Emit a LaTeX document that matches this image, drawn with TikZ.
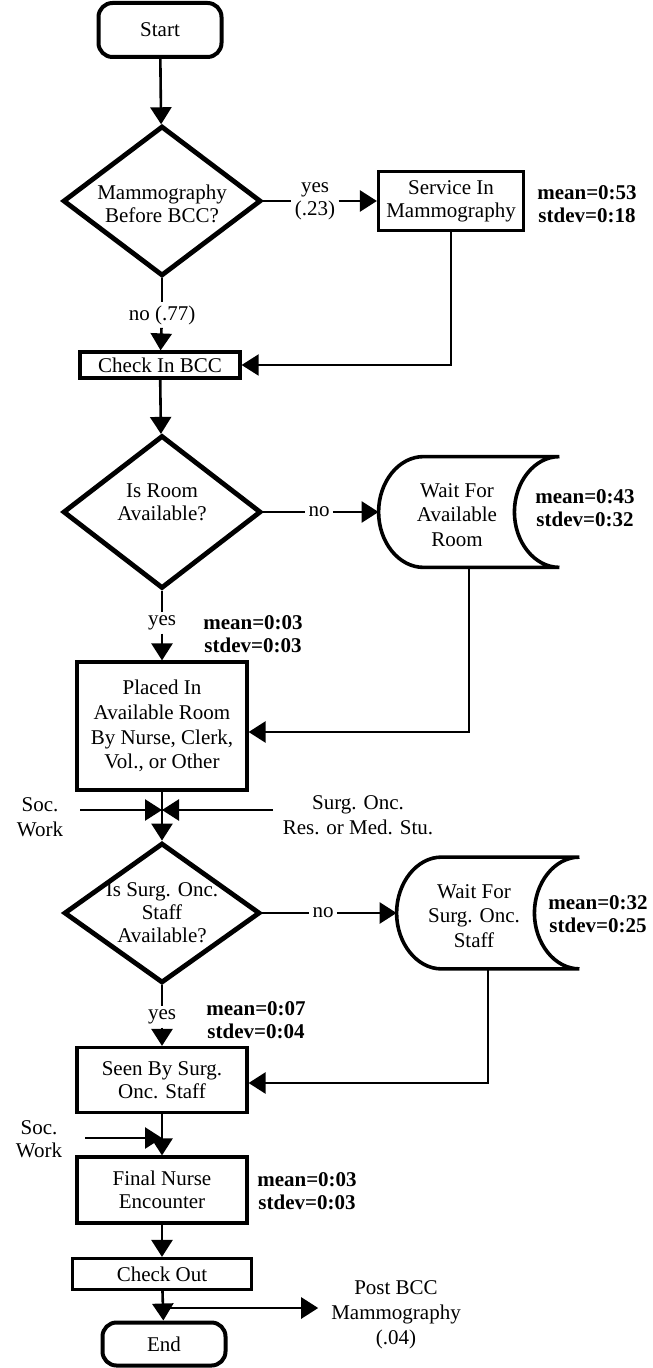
\documentclass[tikz,border=0pt]{standalone}
\usepackage{fontspec}
\setmainfont{Liberation Serif}
\usepackage{tikz}
\usetikzlibrary{arrows.meta}
\usetikzlibrary{shapes.geometric}
\usetikzlibrary{calc}
\usetikzlibrary{positioning}
\tikzstyle{flow_line}=[line width=1.3pt]
\tikzstyle{flow_arrow}=[flow_line, -{Triangle[length=8.5pt,width=10.5pt]}]
\tikzstyle{flow_text}=[font=\fontsize{10.5pt}{11.5pt}\selectfont, align=center]
\tikzstyle{flow_text_wide}=[font=\fontsize{10.5pt}{12.4pt}\selectfont, align=center]
\tikzstyle{flow_label}=[flow_text, inner sep=1.5pt]
\tikzstyle{flow_stats}=[align=center, font=\fontsize{10.5pt}{11.5pt}\selectfont\bfseries, inner sep=0pt]
\tikzstyle{flow_box}=[flow_text, draw, line width=1.6pt, rectangle, inner sep=2pt]
\tikzstyle{flow_terminal}=[flow_box, line width=2pt, rounded corners=7pt]
\tikzstyle{flow_decision}=[draw, diamond, line width=2.4pt, inner sep=0pt]
\tikzstyle{flow_wait}=[rectangle, inner sep=0pt]
\tikzstyle{wait_line}=[line width=1.8pt]
\newcommand{\waitshape}[1]{%
  \draw[wait_line] ($(#1.north west)+(45,0)$) -- (#1.north east)
    .. controls +(-25,0) and +(0,-30) .. ($(#1.east)+(-45,0)$)
    .. controls +(0,30) and +(-25,0) .. (#1.south east)
    -- ($(#1.south west)+(45,0)$)
    .. controls +(-25,0) and +(0,30) .. (#1.west)
    .. controls +(0,-30) and +(-25,0) .. ($(#1.north west)+(45,0)$);}
\begin{document}
\begin{tikzpicture}[x=0.5pt,y=-0.5pt]
\useasboundingbox (0,0) rectangle (652,1368);
\node[flow_terminal, minimum width=61.5pt, minimum height=27pt] (start) at (160,30) {Start};
\node[flow_decision, minimum width=99pt, minimum height=75pt,
  label={[flow_text, yshift=-1.5pt]center:Mammography\\Before BCC?}] (d1) at (162,201) {};
\node[flow_label] (yes1) at (315,201) {yes\\(.23)};
\node[flow_box, minimum width=72.5pt, minimum height=29.5pt] (service) at (451,201) {Service In\\Mammography};
\node[flow_stats] (stats1) at (587,204) {mean=0:53\\stdev=0:18};
\node[flow_label] (no1) at (162,315) {no (.77)};
\node[flow_box, inner ysep=1pt, minimum width=80pt, minimum height=13pt] (checkin) at (160,365) {Check In BCC};
\node[flow_decision, minimum width=99pt, minimum height=76.5pt,
  label={[flow_text, yshift=5pt]center:Is Room\\Available?}] (d2) at (162,512) {};
\node[flow_label] (no2) at (319,512) {no};
\node[flow_wait, minimum width=90pt, minimum height=55pt] (wait1) at (469,512) {};
\node[flow_text_wide] (wait1txt) at (457,515) {Wait For\\Available\\Room};
\node[flow_stats] (stats2) at (585,508) {mean=0:43\\stdev=0:32};
\node[flow_label] (yes2) at (162,623) {yes};
\node[flow_stats] (stats3) at (253,634) {mean=0:03\\stdev=0:03};
\node[flow_box, flow_text_wide, minimum width=85pt, minimum height=64pt] (placed) at (162,726) {Placed In\\Available Room\\By Nurse, Clerk,\\Vol., or Other};
\coordinate (merge1) at (162,810);
\coordinate (socin1) at (80,810);
\coordinate (surgin) at (273,810);
\node[flow_text_wide] (soc1) at (40,817) {Soc.\\Work};
\node[flow_text_wide] (surg) at (358,815) {Surg. Onc.\\Res. or Med. Stu.};
\node[flow_decision, minimum width=98pt, minimum height=70pt,
  label={[flow_text]center:Is Surg. Onc.\\Staff\\Available?}] (d3) at (162,913) {};
\node[flow_label] (no3) at (323,913) {no};
\node[flow_wait, minimum width=91pt, minimum height=55.5pt] (wait2) at (488,913) {};
\node[flow_text_wide] (wait2txt) at (474,916) {Wait For\\Surg. Onc.\\Staff};
\node[flow_stats] (stats4) at (598,914) {mean=0:32\\stdev=0:25};
\node[flow_label] (yes3) at (162,1017) {yes};
\node[flow_stats] (stats5) at (256,1020) {mean=0:07\\stdev=0:04};
\node[flow_box, minimum width=85pt, minimum height=32.5pt] (seen) at (162,1080) {Seen By Surg.\\Onc. Staff};
\coordinate (merge2) at (162,1138);
\coordinate (socin2) at (85,1138);
\node[flow_text] (soc2) at (39,1139) {Soc.\\Work};
\node[flow_box, minimum width=85pt, minimum height=33pt] (final) at (162,1190) {Final Nurse\\Encounter};
\node[flow_stats] (stats6) at (307,1191) {mean=0:03\\stdev=0:03};
\node[flow_box, inner ysep=1pt, minimum width=89.5pt, minimum height=15.5pt] (checkout) at (162,1274) {Check Out};
\coordinate (split) at (162,1308);
\node[flow_terminal, minimum width=61.5pt, minimum height=21.5pt] (finish) at (164,1344) {End};
\node[flow_text_wide] (post) at (396,1315) {Post BCC\\Mammography\\(.04)};
\waitshape{wait1}
\waitshape{wait2}
\draw[flow_arrow] (start) -- (d1);
\draw[flow_line] (d1) -- (yes1);
\draw[flow_arrow] (yes1) -- (service);
\draw[flow_arrow, line width=1pt] (service.south) |- (checkin.east);
\draw[flow_line] (d1) -- (no1);
\draw[flow_arrow] (no1) -- (checkin);
\draw[flow_arrow] (checkin) -- (d2);
\draw[flow_line] (d2) -- (no2);
\draw[flow_arrow] (no2) -- (wait1.west);
\draw[flow_arrow] (wait1.south) |- ([yshift=-3pt]placed.east);
\draw[flow_line] (d2) -- (yes2);
\draw[flow_arrow] (yes2) -- (placed);
\draw[flow_arrow] (placed) -- (d3);
\draw[flow_arrow] (socin1) -- (merge1);
\draw[flow_arrow] (surgin) -- (merge1);
\draw[flow_line] (d3) -- (no3);
\draw[flow_arrow] (no3) -- (wait2.west);
\draw[flow_arrow] (wait2.south) |- ([yshift=-1.5pt]seen.east);
\draw[flow_line] (d3) -- (yes3);
\draw[flow_arrow] (yes3) -- (seen);
\draw[flow_arrow] (seen) -- (final);
\draw[flow_arrow] (socin2) -- (merge2);
\draw[flow_arrow] (final) -- (checkout);
\draw[flow_arrow] (checkout) -- (finish);
\draw[flow_arrow] (split) -- ($(split -| post.west)+(-6,0)$);
\end{tikzpicture}
\end{document}
